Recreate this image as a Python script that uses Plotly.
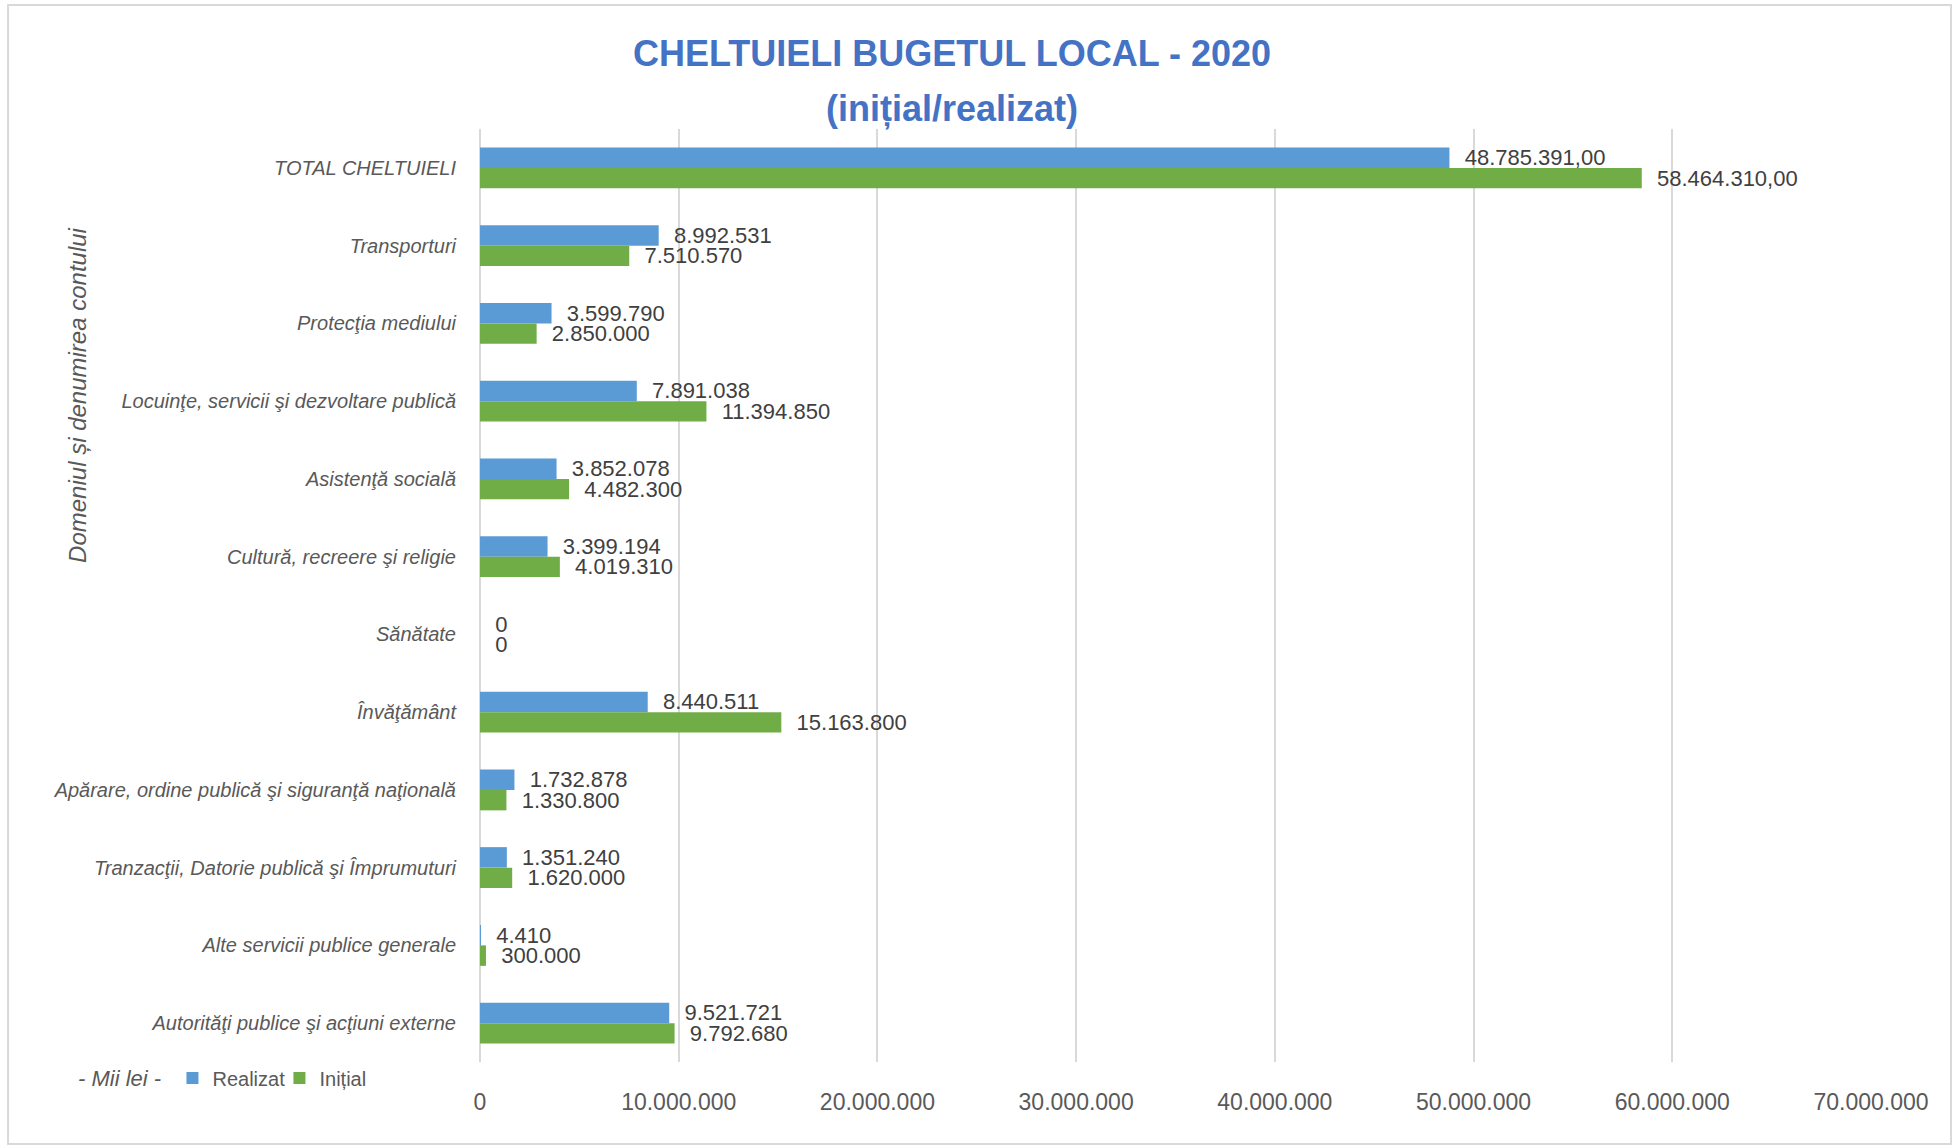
import plotly.graph_objects as go

categories = [
    "TOTAL CHELTUIELI",
    "Transporturi",
    "Protecţia mediului",
    "Locuinţe, servicii şi dezvoltare publică",
    "Asistenţă socială",
    "Cultură, recreere şi religie",
    "Sănătate",
    "Învăţământ",
    "Apărare, ordine publică şi siguranţă naţională",
    "Tranzacţii, Datorie publică şi Împrumuturi",
    "Alte servicii publice generale",
    "Autorităţi publice şi acţiuni externe",
]
realizat = [48785391.00, 8992531, 3599790, 7891038, 3852078, 3399194, 0,
            8440511, 1732878, 1351240, 4410, 9521721]
initial = [58464310.00, 7510570, 2850000, 11394850, 4482300, 4019310, 0,
           15163800, 1330800, 1620000, 300000, 9792680]
label_decimals = [2, 0, 0, 0, 0, 0, 0, 0, 0, 0, 0, 0]
x_ticks = [0, 10000000, 20000000, 30000000, 40000000, 50000000, 60000000, 70000000]


def fmt(v, d):
    s = f"{v:,.{d}f}"
    return s.replace(",", "X").replace(".", ",").replace("X", ".")


NBSP = "\u00a0\u00a0"
txt_r = [NBSP + fmt(v, d) for v, d in zip(realizat, label_decimals)]
txt_i = [NBSP + fmt(v, d) for v, d in zip(initial, label_decimals)]

SANS = "Liberation Sans, Arial, sans-serif"

fig = go.Figure()
fig.add_trace(go.Bar(
    name="Realizat", y=categories, x=realizat, orientation="h",
    marker=dict(color="#5B9BD5", line=dict(width=0)),
    text=txt_r, textposition="outside", cliponaxis=False, constraintext="none",
    textfont=dict(family=SANS, size=22, color="#404040"),
))
fig.add_trace(go.Bar(
    name="Inițial", y=categories, x=initial, orientation="h",
    marker=dict(color="#70AD47", line=dict(width=0)),
    text=txt_i, textposition="outside", cliponaxis=False, constraintext="none",
    textfont=dict(family=SANS, size=22, color="#404040"),
))

fig.update_layout(
    width=1959, height=1146,
    margin=dict(l=480, r=88, t=129, b=84, autoexpand=False),
    paper_bgcolor="white", plot_bgcolor="white",
    barmode="group", bargap=0.473, bargroupgap=0,
    separators=",.",
    showlegend=True,
    legend=dict(orientation="h", x=-0.2211, xanchor="left", y=-0.01715, yanchor="middle",
                font=dict(family=SANS, size=20, color="#595959"),
                bgcolor="rgba(0,0,0,0)", itemwidth=30, traceorder="normal",
                entrywidth=62, entrywidthmode="pixels"),
    xaxis=dict(range=[0, 70000000], tickvals=x_ticks, tickformat=",d",
               showgrid=True, gridcolor="#D9D9D9", gridwidth=1.5,
               zeroline=True, zerolinecolor="#D9D9D9", zerolinewidth=1.5,
               showline=False, ticks="outside", ticklen=19, tickcolor="rgba(0,0,0,0)",
               tickfont=dict(family=SANS, size=23, color="#595959"), fixedrange=True),
    yaxis=dict(type="category", autorange="reversed", showgrid=False, showline=False,
               ticks="outside", ticklen=19, tickcolor="rgba(0,0,0,0)",
               tickfont=dict(family=SANS, size=20, color="#595959", style="italic"),
               fixedrange=True),
)

fig.add_annotation(
    xref="paper", yref="paper", x=0.3393, y=1.0804, xanchor="center", yanchor="middle",
    text="CHELTUIELI BUGETUL LOCAL - 2020", showarrow=False,
    font=dict(family=SANS, size=36, color="#4472C4", weight="bold"),
)
fig.add_annotation(
    xref="paper", yref="paper", x=0.3393, y=1.0214, xanchor="center", yanchor="middle",
    text="(inițial/realizat)", showarrow=False,
    font=dict(family=SANS, size=36, color="#4472C4", weight="bold"),
)
fig.add_annotation(
    xref="paper", yref="paper", x=-0.289, y=0.715, xanchor="center", yanchor="middle",
    text="Domeniul și denumirea contului", textangle=-90, showarrow=False,
    font=dict(family=SANS, size=24, color="#595959", style="italic"),
)
fig.add_annotation(
    xref="paper", yref="paper", x=-0.2595, y=-0.01715, xanchor="center", yanchor="middle",
    text="- Mii lei -", showarrow=False,
    font=dict(family=SANS, size=22, color="#595959", style="italic"),
)
fig.add_shape(
    type="rect", xref="paper", yref="paper", x0=-0.3393, x1=1.0575, y0=-0.0879, y1=1.1329,
    line=dict(color="#D9D9D9", width=2), fillcolor="rgba(0,0,0,0)", layer="below",
)

fig.write_html("out.html", post_script="document.body.style.margin='0';",
               config={"displayModeBar": False})
